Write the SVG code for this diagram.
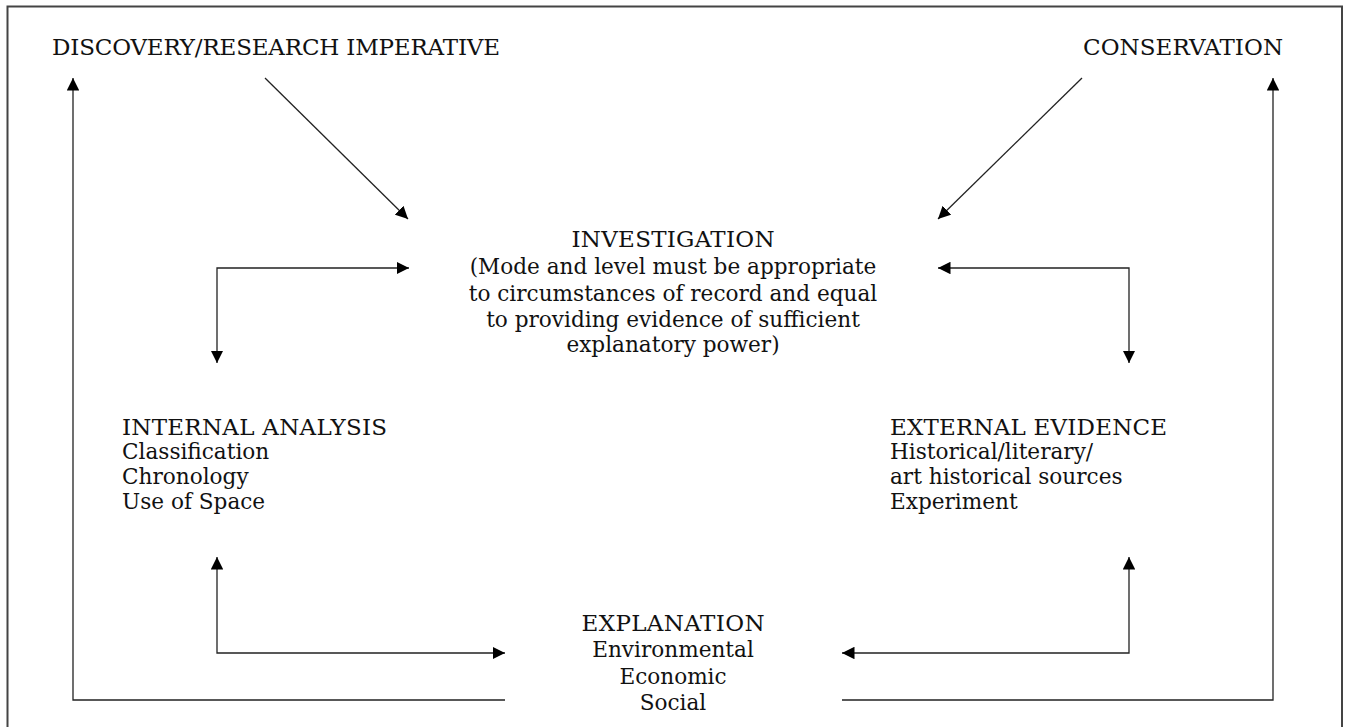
<svg xmlns="http://www.w3.org/2000/svg" width="1345" height="727" viewBox="0 0 1345 727">
<style>
.t{font-family:"DejaVu Serif","Liberation Serif",serif;font-size:21.6px;fill:#111}
.h{font-size:23px}
.c{text-anchor:middle}
.ln{fill:none;stroke:#222;stroke-width:1.3}
.frame{fill:none;stroke:#444;stroke-width:2}
</style>
<defs>
<marker id="ah" viewBox="0 0 12 12" refX="12" refY="6" markerWidth="12.5" markerHeight="12.5" markerUnits="userSpaceOnUse" orient="auto-start-reverse">
<path d="M0,0 L12,6 L0,12 Z" fill="#000"/>
</marker>
</defs>
<rect width="1345" height="727" fill="#fff"/>
<path class="frame" d="M7.5,727 V6.5 H1342 V727"/>
<g id="connectors">
<line class="ln" x1="265" y1="78" x2="408" y2="219" marker-end="url(#ah)"/>
<line class="ln" x1="1082" y1="78" x2="938" y2="219" marker-end="url(#ah)"/>
<path class="ln" d="M409,268 H217 V363" marker-start="url(#ah)" marker-end="url(#ah)"/>
<path class="ln" d="M938,268 H1129 V363" marker-start="url(#ah)" marker-end="url(#ah)"/>
<path class="ln" d="M217,557 V653 H505" marker-start="url(#ah)" marker-end="url(#ah)"/>
<path class="ln" d="M1129,557 V653 H842" marker-start="url(#ah)" marker-end="url(#ah)"/>
<path class="ln" d="M505,700 H73 V78" marker-end="url(#ah)"/>
<path class="ln" d="M842,700 H1273 V78" marker-end="url(#ah)"/>
</g>
<g id="discovery"><text class="t h" x="52" y="55" textLength="448">DISCOVERY/RESEARCH IMPERATIVE</text></g>
<g id="conservation"><text class="t h" x="1083" y="55" textLength="200">CONSERVATION</text></g>
<g id="investigation">
<text class="t h c" x="673" y="247" textLength="203">INVESTIGATION</text>
<text class="t c" x="673" y="274">(Mode and level must be appropriate</text>
<text class="t c" x="673" y="301">to circumstances of record and equal</text>
<text class="t c" x="673" y="327">to providing evidence of sufficient</text>
<text class="t c" x="673" y="352">explanatory power)</text>
</g>
<g id="internal">
<text class="t h" x="122" y="435" textLength="265">INTERNAL ANALYSIS</text>
<text class="t" x="122" y="459">Classification</text>
<text class="t" x="122" y="484">Chronology</text>
<text class="t" x="122" y="509">Use of Space</text>
</g>
<g id="external">
<text class="t h" x="890" y="435" textLength="277">EXTERNAL EVIDENCE</text>
<text class="t" x="890" y="459">Historical/literary/</text>
<text class="t" x="890" y="484">art historical sources</text>
<text class="t" x="890" y="509">Experiment</text>
</g>
<g id="explanation">
<text class="t h c" x="673" y="631" textLength="183">EXPLANATION</text>
<text class="t c" x="673" y="657">Environmental</text>
<text class="t c" x="673" y="684">Economic</text>
<text class="t c" x="673" y="710">Social</text>
</g>
</svg>
